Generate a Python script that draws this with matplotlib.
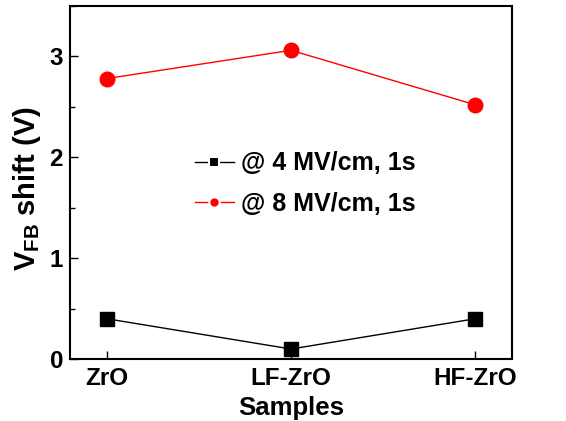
import matplotlib
matplotlib.use("Agg")
import matplotlib.pyplot as plt
from matplotlib.lines import Line2D
from matplotlib.ticker import MultipleLocator

plt.rcParams['font.family'] = ['Liberation Sans', 'DejaVu Sans']
plt.rcParams['font.weight'] = 'bold'
plt.rcParams['mathtext.fontset'] = 'custom'
plt.rcParams['mathtext.rm'] = 'Liberation Sans:bold'
plt.rcParams['mathtext.bf'] = 'Liberation Sans:bold'
plt.rcParams['mathtext.it'] = 'Liberation Sans:bold'

samples = ["ZrO", "LF-ZrO", "HF-ZrO"]
shift_4mv = [0.40, 0.10, 0.40]
shift_8mv = [2.78, 3.06, 2.52]
labels = ["@ 4 MV/cm, 1s", "@ 8 MV/cm, 1s"]

fig = plt.figure(figsize=(5.66, 4.21), dpi=100)
ax = fig.add_axes([0.1237, 0.147, 0.781, 0.839])

x = list(range(len(samples)))
ax.plot(x, shift_4mv, color='black', lw=1, marker='s', ms=9.5, mfc='black', mec='black')
ax.plot(x, shift_8mv, color='red', lw=1, marker='o', ms=10.5, mfc='red', mec='red')

ax.set_xlim(-0.2, 2.2)
ax.set_ylim(0, 3.5)
ax.set_xticks(x)
ax.set_xticklabels(samples)
ax.yaxis.set_major_locator(MultipleLocator(1))
ax.yaxis.set_minor_locator(MultipleLocator(0.5))
ax.tick_params(axis='both', which='major', direction='in', length=6, width=1, labelsize=17.5)
ax.tick_params(axis='x', which='major', pad=6)
ax.tick_params(axis='y', which='major', pad=5)
ax.tick_params(axis='y', which='minor', direction='in', length=3.5, width=1)
ax.tick_params(top=False, right=False)
for lab in ax.get_xticklabels() + ax.get_yticklabels():
    lab.set_fontweight('bold')
for s in ax.spines.values():
    s.set_linewidth(1.5)

ax.set_xlabel("Samples", fontsize=18.5, fontweight='bold', labelpad=4)
ax.set_ylabel(r"$\mathregular{V_{FB}}$ shift (V)", fontsize=21, fontweight='bold')
ax.yaxis.set_label_coords(-0.062, 0.484)

handles = [
    Line2D([], [], color='black', lw=1, marker='s', ms=7, mfc='black', mec='white', mew=1.5),
    Line2D([], [], color='red', lw=1, marker='o', ms=7.5, mfc='red', mec='white', mew=1.5),
]
ax.legend(handles, labels, loc='upper left', bbox_to_anchor=(0.283, 0.588), frameon=False,
          prop={'size': 18, 'weight': 'bold'}, handlelength=1.55, handletextpad=0.3,
          labelspacing=0.65, borderaxespad=0, borderpad=0)

fig.savefig("out.png", dpi=100)
